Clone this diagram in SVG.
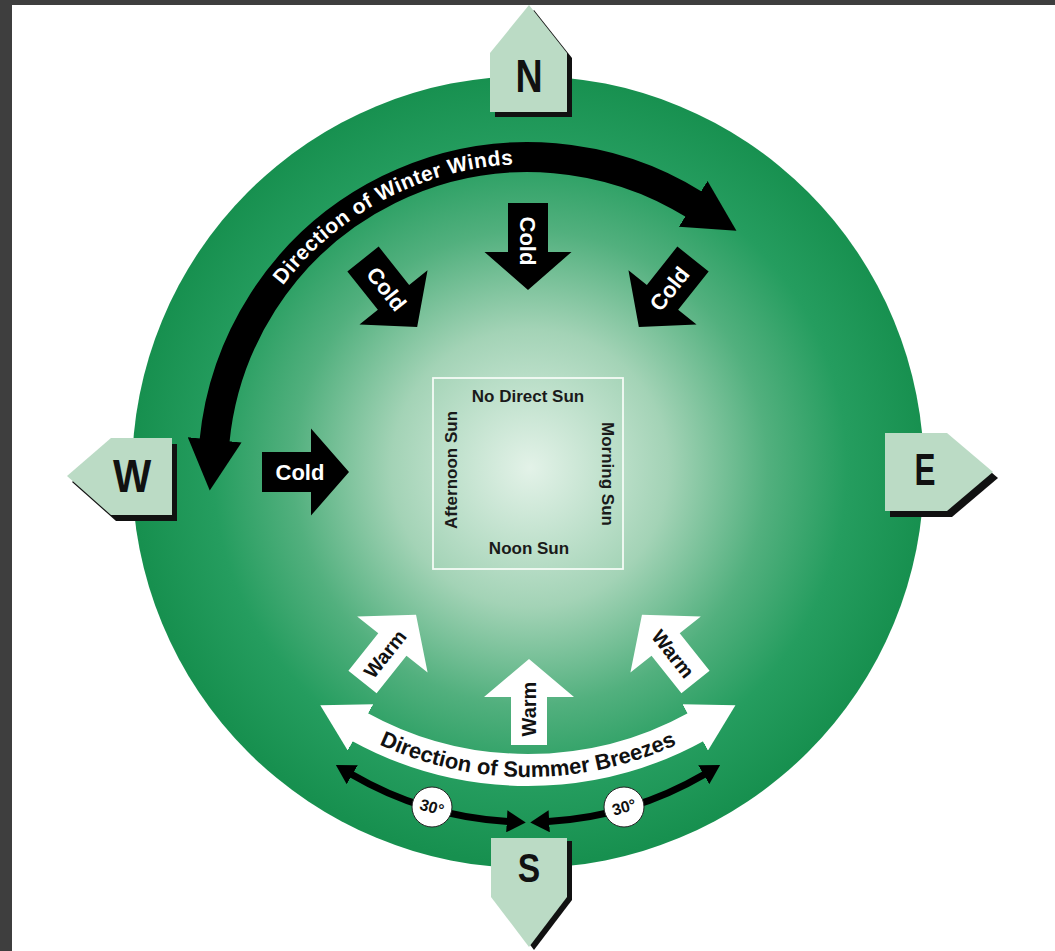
<svg xmlns="http://www.w3.org/2000/svg" width="1055" height="951" viewBox="0 0 1055 951">
<defs>
<radialGradient id="globe" cx="530" cy="468" r="396" gradientUnits="userSpaceOnUse">
<stop offset="0" stop-color="#e3f2e8"/>
<stop offset="0.35" stop-color="#a3d3b6"/>
<stop offset="0.6" stop-color="#52b07e"/>
<stop offset="0.8" stop-color="#259d5f"/>
<stop offset="1" stop-color="#17904f"/>
</radialGradient>
<marker id="winterHead" markerUnits="userSpaceOnUse" viewBox="-2 -27 51 54" markerWidth="51" markerHeight="54" refX="0" refY="0" orient="auto-start-reverse">
<path d="M-2,-27 L49,0 L-2,27 Z" fill="#000"/>
</marker>
<marker id="summerHead" markerUnits="userSpaceOnUse" viewBox="-2 -26.5 46 53" markerWidth="46" markerHeight="53" refX="0" refY="0" orient="auto-start-reverse">
<path d="M-2,-26.5 L44,0 L-2,26.5 Z" fill="#fff"/>
</marker>
<marker id="degHead" markerUnits="userSpaceOnUse" viewBox="-1 -11 19 22" markerWidth="19" markerHeight="22" refX="0" refY="0" orient="auto-start-reverse">
<path d="M-1,-11 L18,0 L-1,11 Z" fill="#000"/>
</marker>
<path id="winterTextPath" d="M 220 472 A 308 308 0 0 1 836 472" fill="none"/>
<path id="summerTextPath" d="M 323.2 712.4 A 357 357 0 0 0 732.8 712.4" fill="none"/>
</defs>
<style>
.lbl{font-family:"Liberation Sans",Arial,Helvetica,sans-serif;font-weight:bold}
.pt{fill:#bbdbc5}
.sh{fill:#111}
.letter{fill:#111}
.cold{fill:#000}
.coldtxt{fill:#fff;font-size:22px}
.warm{fill:#fff}
.warmtxt{fill:#111;font-size:20px}
.sun{fill:#1a1a1a;font-size:17px}
.deg{fill:#fff;stroke:#222;stroke-width:1}
.degtxt{fill:#111;font-size:16px}
</style>

<rect x="0" y="0" width="1055" height="951" fill="#3e3e3e"/>
<rect x="12" y="5" width="1043" height="946" fill="#ffffff"/>

<g id="globe-disc">
<circle cx="528" cy="472" r="396" fill="url(#globe)"/>
</g>

<g id="center-square">
<rect x="433" y="378" width="190" height="191" fill="none" stroke="#f4fbf6" stroke-width="1.8"/>
<text class="lbl sun" x="528" y="402" text-anchor="middle">No Direct Sun</text>
<text class="lbl sun" x="529" y="554" text-anchor="middle">Noon Sun</text>
<text class="lbl sun" transform="translate(457,470) rotate(-90)" x="0" y="0" text-anchor="middle">Afternoon Sun</text>
<text class="lbl sun" transform="translate(602,474) rotate(90)" x="0" y="0" text-anchor="middle">Morning Sun</text>
</g>

<g id="connectors">
<path id="winter-winds" d="M 214.45 441.8 A 315 315 0 0 1 694.9 204.9" fill="none" stroke="#000" stroke-width="30" marker-start="url(#winterHead)" marker-end="url(#winterHead)"/>
<path id="summer-breezes" d="M 358.8 726.4 A 350 350 0 0 0 696.9 726.4" fill="none" stroke="#fff" stroke-width="32" marker-start="url(#summerHead)" marker-end="url(#summerHead)"/>
<path id="angle-left" d="M 351.4 774.2 A 350 350 0 0 0 507.8 821.4" fill="none" stroke="#000" stroke-width="7" marker-start="url(#degHead)" marker-end="url(#degHead)"/>
<path id="angle-right" d="M 704.6 774.2 A 350 350 0 0 1 548.2 821.4" fill="none" stroke="#000" stroke-width="7" marker-start="url(#degHead)" marker-end="url(#degHead)"/>
</g>

<g id="winter-label">
<text class="lbl" fill="#fff" font-size="21" letter-spacing="0.5"><textPath href="#winterTextPath" startOffset="334.6" text-anchor="middle">Direction of Winter Winds</textPath></text>
</g>
<g id="summer-label">
<text class="lbl" fill="#111" font-size="22"><textPath href="#summerTextPath" startOffset="50%" text-anchor="middle">Direction of Summer Breezes</textPath></text>
</g>

<g id="deg-left">
<circle class="deg" cx="432" cy="807" r="20"/>
<text class="lbl degtxt" transform="translate(432,807) rotate(16)" x="0" y="5.7" text-anchor="middle">30°</text>
</g>
<g id="deg-right">
<circle class="deg" cx="624" cy="807" r="20"/>
<text class="lbl degtxt" transform="translate(624,807) rotate(-16)" x="0" y="5.7" text-anchor="middle">30°</text>
</g>

<g id="cold-n" transform="translate(528,203) rotate(90)">
<polygon class="cold" points="0,-20 49,-20 49,-43.5 87,0 49,43.5 49,20 0,20"/>
<text class="lbl coldtxt" x="38" y="7.9" text-anchor="middle">Cold</text>
</g>
<g id="cold-nw" transform="translate(363,259) rotate(51.5)">
<polygon class="cold" points="0,-20 49,-20 49,-43.5 87,0 49,43.5 49,20 0,20"/>
<text class="lbl coldtxt" x="38" y="7.9" text-anchor="middle">Cold</text>
</g>
<g id="cold-ne" transform="translate(693,259) rotate(128.5)">
<polygon class="cold" points="0,-20 49,-20 49,-43.5 87,0 49,43.5 49,20 0,20"/>
<text class="lbl coldtxt" transform="rotate(180 38 0)" x="38" y="7.9" text-anchor="middle">Cold</text>
</g>
<g id="cold-w" transform="translate(262,472)">
<polygon class="cold" points="0,-20 49,-20 49,-43.5 87,0 49,43.5 49,20 0,20"/>
<text class="lbl coldtxt" x="38" y="7.9" text-anchor="middle">Cold</text>
</g>

<g id="warm-s" transform="translate(529,745) rotate(-90)">
<polygon class="warm" points="0,-18 48,-18 48,-45 86,0 48,45 48,18 0,18"/>
<text class="lbl warmtxt" x="36" y="7.2" text-anchor="middle">Warm</text>
</g>
<g id="warm-sw" transform="translate(362.5,682) rotate(-51.5)">
<polygon class="warm" points="0,-18 48,-18 48,-45 86,0 48,45 48,18 0,18"/>
<text class="lbl warmtxt" x="36" y="7.2" text-anchor="middle">Warm</text>
</g>
<g id="warm-se" transform="translate(695.5,682) rotate(-128.5)">
<polygon class="warm" points="0,-18 48,-18 48,-45 86,0 48,45 48,18 0,18"/>
<text class="lbl warmtxt" transform="rotate(180 36 0)" x="36" y="7.2" text-anchor="middle">Warm</text>
</g>

<g id="compass-n">
<polygon class="sh" points="490,112 490,53 529,5 567,53 567,112" transform="translate(5,5)"/>
<polygon class="pt" points="490,112 490,53 529,5 567,53 567,112"/>
<text class="lbl letter" transform="translate(529,92) scale(0.8,1)" font-size="47" text-anchor="middle">N</text>
</g>
<g id="compass-e">
<polygon class="sh" points="885,433 947,433 993,472 947,511 885,511" transform="translate(5,6)"/>
<polygon class="pt" points="885,433 947,433 993,472 947,511 885,511"/>
<text class="lbl letter" transform="translate(925,485) scale(0.7,1)" font-size="45" text-anchor="middle">E</text>
</g>
<g id="compass-s">
<polygon class="sh" points="491,838 567,838 567,897 529,947 491,897" transform="translate(5,3)"/>
<polygon class="pt" points="491,838 567,838 567,897 529,947 491,897"/>
<text class="lbl letter" transform="translate(529,882) scale(0.82,1)" font-size="41" text-anchor="middle">S</text>
</g>
<g id="compass-w">
<polygon class="sh" points="172,438 111,438 67,476 111,515 172,515" transform="translate(5,6)"/>
<polygon class="pt" points="172,438 111,438 67,476 111,515 172,515"/>
<text class="lbl letter" transform="translate(132,492) scale(0.88,1)" font-size="46" text-anchor="middle">W</text>
</g>
</svg>
